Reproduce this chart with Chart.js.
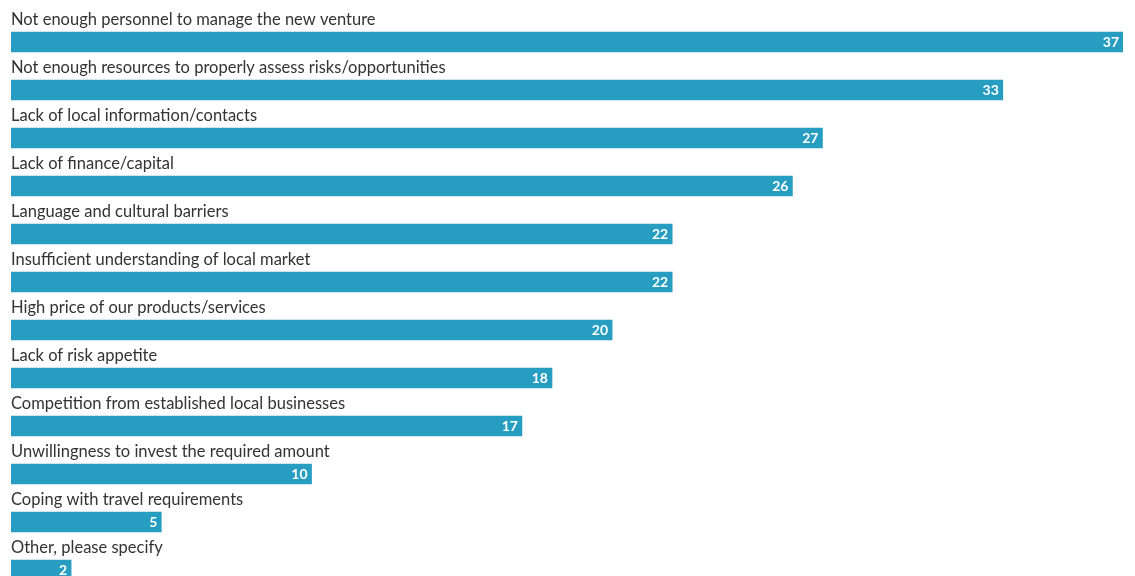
<!DOCTYPE html>
<html>
<head>
<meta charset="utf-8">
<script src="https://cdn.jsdelivr.net/npm/chart.js@4.4.0/dist/chart.umd.min.js"></script>
<style>
  html, body { margin: 0; padding: 0; background: #fff; overflow: hidden; }
  #wrap { position: relative; width: 1135px; height: 600px; }
</style>
</head>
<body>
<div id="wrap"><canvas id="chart"></canvas></div>
<script>
// Obstacles to entering a new market, % of respondents
const categories = [
  "Not enough personnel to manage the new venture",
  "Not enough resources to properly assess risks/opportunities",
  "Lack of local information/contacts",
  "Lack of finance/capital",
  "Language and cultural barriers",
  "Insufficient understanding of local market",
  "High price of our products/services",
  "Lack of risk appetite",
  "Competition from established local businesses",
  "Unwillingness to invest the required amount",
  "Coping with travel requirements",
  "Other, please specify"
];
const values = [37, 33, 27, 26, 22, 22, 20, 18, 17, 10, 5, 2];

const BAR_COLOR = "#279ec1";
const TEXT_COLOR = "#333333";
const LABEL_FONT = "16.5px Lato, 'Open Sans', sans-serif";
const VALUE_FONT = "bold 14px Lato, 'Open Sans', sans-serif";

// Draws category names above each bar and values inside the bar ends
const barLabels = {
  id: "barLabels",
  afterDatasetsDraw(chart) {
    const ctx = chart.ctx;
    const meta = chart.getDatasetMeta(0);
    const xScale = chart.scales.x;
    ctx.save();
    meta.data.forEach((bar, i) => {
      const top = bar.y - bar.height / 2;
      ctx.font = LABEL_FONT;
      ctx.fillStyle = TEXT_COLOR;
      ctx.textAlign = "left";
      ctx.textBaseline = "alphabetic";
      ctx.fillText(categories[i], xScale.left, top - 7);
      ctx.font = VALUE_FONT;
      ctx.fillStyle = "#ffffff";
      ctx.textAlign = "right";
      ctx.textBaseline = "middle";
      ctx.fillText(String(values[i]), bar.x - 4, bar.y + 0.5);
    });
    ctx.restore();
  }
};

new Chart(document.getElementById("chart"), {
  type: "bar",
  data: {
    labels: categories,
    datasets: [{
      data: values,
      backgroundColor: BAR_COLOR,
      borderWidth: 0,
      barThickness: 20
    }]
  },
  options: {
    indexAxis: "y",
    responsive: true,
    maintainAspectRatio: false,
    animation: false,
    layout: { padding: { left: 11, right: 12, top: 18, bottom: 6 } },
    plugins: { legend: { display: false }, tooltip: { enabled: false } },
    scales: {
      x: { display: false, min: 0, max: 37 },
      y: { display: false }
    }
  },
  plugins: [barLabels]
});
</script>
</body>
</html>
